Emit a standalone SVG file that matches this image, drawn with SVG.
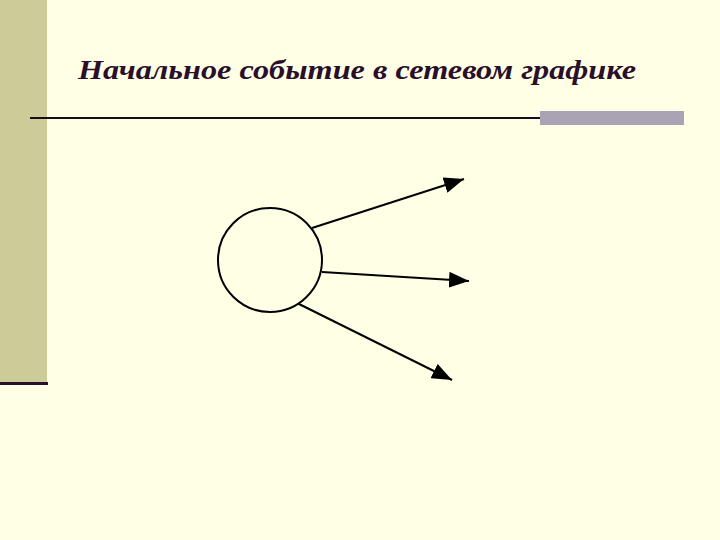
<svg xmlns="http://www.w3.org/2000/svg" width="720" height="540" viewBox="0 0 720 540">
<style>
.title{font-family:"Liberation Serif","Times New Roman",serif;font-weight:bold;font-style:italic;font-size:28px;fill:#2a0f2a}
.edge{stroke:#000;stroke-width:2;fill:none;marker-end:url(#ah)}
.node{fill:#ffffe5;stroke:#000;stroke-width:2}
</style>
<defs>
<marker id="ah" viewBox="0 0 20 16" refX="20" refY="8" markerWidth="20" markerHeight="16" markerUnits="userSpaceOnUse" orient="auto">
<path d="M0,0 L20,8 L0,16 z" fill="#000"/>
</marker>
</defs>
<rect x="0" y="0" width="720" height="540" fill="#ffffe5"/>
<rect x="0" y="0" width="47" height="382" fill="#cccc99"/>
<rect x="0" y="382" width="48" height="3" fill="#2a0f2a"/>
<text class="title" x="78" y="79" textLength="558" lengthAdjust="spacingAndGlyphs">Начальное событие в сетевом графике</text>
<rect x="30" y="117" width="512" height="2" fill="#1a0a1a"/>
<rect x="540" y="111" width="144" height="14" fill="#aaa3b3"/>
<g id="connectors">
<line class="edge" x1="312" y1="228" x2="464" y2="179"/>
<line class="edge" x1="322" y1="272" x2="469" y2="281"/>
<line class="edge" x1="297" y1="303" x2="452" y2="380"/>
</g>
<g id="node-start">
<circle class="node" cx="270" cy="260" r="52"/>
</g>
</svg>
